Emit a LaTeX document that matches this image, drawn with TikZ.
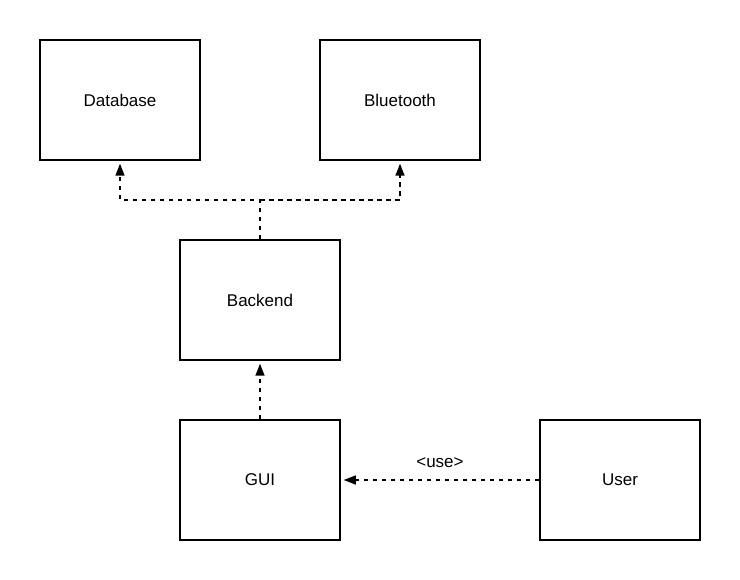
\documentclass[tikz,border=0pt]{standalone}
\usepackage{fontspec}
\setmainfont{Liberation Sans}
\usetikzlibrary{arrows.meta}
\begin{document}
\begin{tikzpicture}[x=1pt,y=-1pt,
  lbl/.style={font=\fontsize{17}{20}\selectfont},
  box/.style={draw,line width=1.5pt,minimum width=160pt,minimum height=120pt,inner sep=0pt,lbl},
  dep/.style={line width=1.5pt,dash pattern=on 4.5pt off 4.5pt,-{Triangle[length=12pt,width=9pt]},shorten >=3pt}]
\useasboundingbox (0,0) rectangle (740,580);
\node[box] (db) at (120,100) {Database};
\node[box] (bt) at (400,100) {Bluetooth};
\node[box] (be) at (260,300) {Backend};
\node[box] (gui) at (260,480) {GUI};
\node[box] (user) at (620,480) {User};
\coordinate (j) at (260,200);
\draw[dep] (be.north) -- (j) -| (db.south);
\draw[dep] (j) -| (bt.south);
\draw[dep] (gui.north) -- (be.south);
\draw[dep] (user.west) -- node[above=8pt,lbl] {<use>} (gui.east);
\end{tikzpicture}
\end{document}
